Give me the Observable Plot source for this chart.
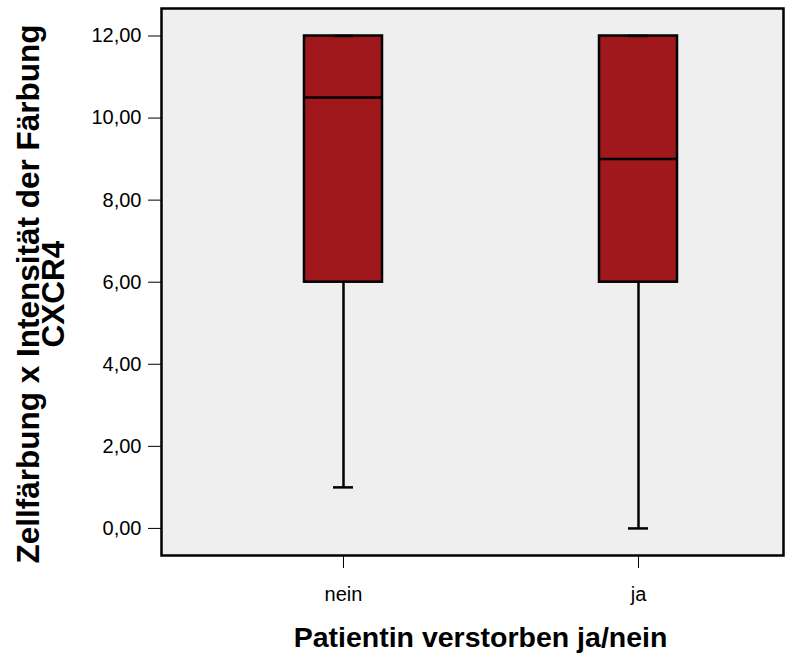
<!DOCTYPE html>
<html>
<head>
<meta charset="utf-8">
<script src="https://cdn.jsdelivr.net/npm/d3@7"></script>
<script src="https://cdn.jsdelivr.net/npm/@observablehq/plot@0.6"></script>
<style>
  html, body { margin: 0; padding: 0; background: #ffffff; }
  #chart svg { display: block; }
</style>
</head>
<body>
<div id="chart"></div>
<script>
// Summary statistics (SPSS-style box plot)
const categories = ["nein", "ja"];
const mins    = [1, 0];
const q1s     = [6, 6];
const medians = [10.5, 9];
const q3s     = [12, 12];
const maxs    = [12, 12];
const yTicks  = [0, 2, 4, 6, 8, 10, 12];

const yLabel = "Zellfärbung x Intensität der Färbung\nCXCR4";
const xLabel = "Patientin verstorben ja/nein";

const rows = categories.map((c, i) => ({
  cat: c, min: mins[i], q1: q1s[i], median: medians[i], q3: q3s[i], max: maxs[i]
}));

const fmt = d => d3.format(".2f")(d).replace(".", ",");

const chart = Plot.plot({
  width: 810,
  height: 653,
  marginLeft: 161,
  marginRight: 27,
  marginTop: 8,
  marginBottom: 98,
  style: { fontFamily: "'Liberation Sans', Arial, sans-serif", fontSize: "20px", color: "#000", background: "#fff" },
  x: {
    type: "band",
    domain: categories,
    paddingInner: 0.7365,
    paddingOuter: 0.419,
    align: 0.5726,
    label: null,
    tickSize: 13,
    tickPadding: 18
  },
  y: {
    domain: [-0.66, 12.67],
    ticks: yTicks,
    tickFormat: fmt,
    tickSize: 13,
    tickPadding: 7,
    label: null
  },
  marks: [
    Plot.frame({ fill: "#efefef", stroke: null }),
    // whiskers
    Plot.ruleX(rows, { x: "cat", y1: "min", y2: "q1", stroke: "#000", strokeWidth: 2.5 }),
    Plot.ruleX(rows, { x: "cat", y1: "q3", y2: "max", stroke: "#000", strokeWidth: 2.5 }),
    // boxes
    Plot.barY(rows, { x: "cat", y1: "q1", y2: "q3", fill: "#a0171c", stroke: "#000", strokeWidth: 2.5 }),
    // median
    Plot.tickY(rows, { x: "cat", y: "median", stroke: "#000", strokeWidth: 2.5 }),
    // caps
    Plot.tickY(rows, { x: "cat", y: "min", stroke: "#000", strokeWidth: 2.5, insetLeft: 29, insetRight: 29 }),
    Plot.tickY(rows, { x: "cat", y: "max", stroke: "#000", strokeWidth: 2.5, insetLeft: 29, insetRight: 29 }),
    Plot.frame({ stroke: "#000", strokeWidth: 2.5 }),
    // axis titles
    Plot.text([yLabel], {
      frameAnchor: "left", textAnchor: "middle", lineAnchor: "middle",
      rotate: -90, dx: -118, dy: 12, fontSize: 31.5, fontWeight: "bold", lineHeight: 0.8, fill: "#000"
    }),
    Plot.text([xLabel], {
      frameAnchor: "bottom", textAnchor: "middle", lineAnchor: "middle",
      dx: 8, dy: 82, fontSize: 28.5, fontWeight: "bold", fill: "#000"
    })
  ]
});

document.getElementById("chart").appendChild(chart);
</script>
</body>
</html>
